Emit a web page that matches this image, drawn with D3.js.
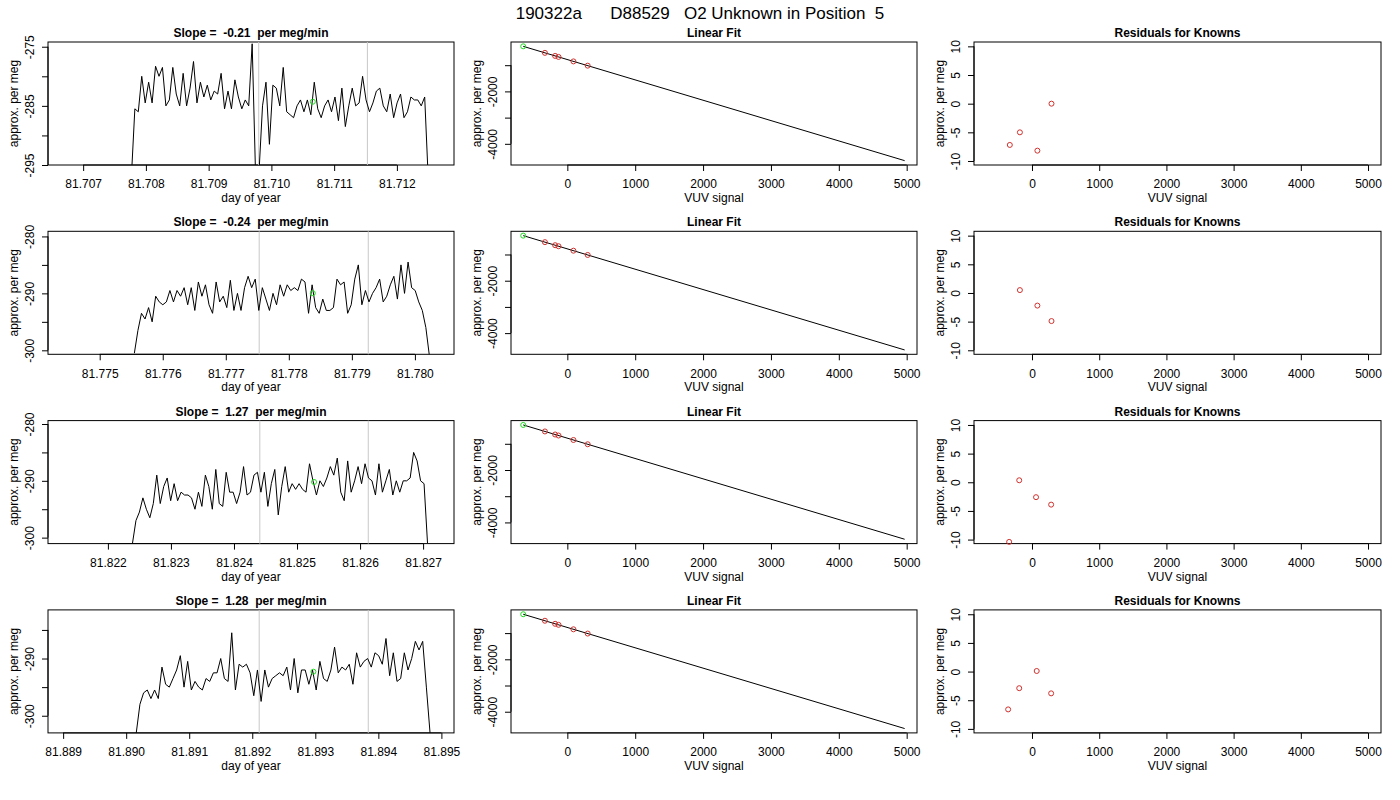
<!DOCTYPE html>
<html><head><meta charset="utf-8">
<script src="https://cdn.jsdelivr.net/npm/d3@7"></script>
<style>body{margin:0;background:#fff}text{font-family:"Liberation Sans",Arial,sans-serif;white-space:pre}</style>
</head><body><div id="chart"></div>
<script>
const mainTitle = "190322a      D88529   O2 Unknown in Position  5";
const slopes = ["-0.21", "-0.24", "1.27", "1.28"];

// time series: start/end day, values sampled evenly between them
const tsStart = [81.707769, 81.77555, 81.82239, 81.89016];
const tsEnd = [81.712498, 81.78023, 81.82707, 81.89482];
const tsXDomain = [[81.70644, 81.71291], [81.77418, 81.78062], [81.82105, 81.82749], [81.88876, 81.8952]];
const tsYDomain = [[-295, -274.2], [-300.7, -279.1], [-301.05, -279.4], [-303, -281.5]];
const tsXTicks = [[81.707, 81.708, 81.709, 81.710, 81.711, 81.712],
  [81.775, 81.776, 81.777, 81.778, 81.779, 81.780],
  [81.822, 81.823, 81.824, 81.825, 81.826, 81.827],
  [81.889, 81.890, 81.891, 81.892, 81.893, 81.894, 81.895]];
const tsYTicks = [[-295, -290, -285, -280, -275], [-300, -295, -290, -285, -280], [-300, -295, -290, -285, -280], [-300, -295, -290, -285]];
const tsYLabels = [[-295, -285, -275], [-300, -290, -280], [-300, -290, -280], [-300, -290]];
const refLines = [[81.709798, 81.71153], [81.77753, 81.77926], [81.82441, 81.82613], [81.89211, 81.89384]];
const unknownMark = [[81.71066, -284.3], [81.77838, -289.97], [81.82527, -290.2], [81.89297, -292.3]];

const series1 = [-297,-285.5,-286,-280,-284.5,-281,-284.5,-278.3,-280,-278.5,-285,-284,-278.5,-283,-285,-279.5,-285,-282,-277.5,-284.5,-281,-283.5,-281.5,-284,-282.5,-283,-279.5,-285.5,-282.5,-285.5,-280.6,-283.5,-285.5,-284,-285,-274.5,-297,-296,-285,-281,-291.5,-281.5,-282,-285,-278.5,-286,-286.5,-287,-285,-284,-286,-284,-286.5,-281,-285.5,-287,-285,-284,-286,-283.5,-287.5,-282,-288.5,-285,-282,-285,-284.5,-280,-284,-286,-284.5,-282.5,-282,-285,-286,-283,-287,-284.5,-283,-287,-286,-283.5,-284,-284,-285,-283.5,-297];
const series2 = [-300.5,-296.5,-293.5,-294.5,-292.5,-295,-290.5,-291.5,-292,-291.5,-289.5,-291.5,-289.5,-290.5,-289,-292,-289,-293,-288,-290.5,-288.5,-292,-293.5,-288,-291.5,-290.5,-292.5,-287.7,-293,-290,-293,-289,-287,-289,-287.5,-293,-289,-291,-293,-290,-292,-288.5,-290.5,-288.5,-289.5,-289,-289.5,-287.5,-288,-293.5,-288.5,-292.5,-293.5,-291,-293,-293,-292.5,-287.5,-288.5,-288,-293.5,-292,-287.5,-285,-292,-289.5,-291.5,-290,-289,-287.5,-291.5,-290.5,-288.5,-287,-291,-285,-290,-284.5,-289,-289.5,-291.5,-293,-296,-301];
const series3 = [-301,-297,-295.5,-293,-295,-296.5,-294,-289,-294,-291,-289.5,-293.5,-290.5,-293.5,-292,-292.5,-292.5,-293,-295,-292,-294.5,-289,-291,-295,-288,-294,-294.5,-288.5,-292,-292,-294,-292,-287.5,-292.5,-292,-289,-288.5,-292,-288.5,-294.5,-290.5,-288,-296,-291,-287.5,-292,-290.5,-291.5,-290.5,-291.5,-292,-287,-290,-292.5,-290,-291,-289.5,-287.5,-289,-286,-292,-293.5,-286.5,-292,-290,-287.5,-290.5,-287,-289.5,-290,-292.5,-287,-292,-290,-288,-292.5,-290,-292,-290,-290,-289.5,-285,-286.5,-290,-290.5,-301];
const series4 = [-303,-298,-296,-295.5,-297,-295.5,-297,-291.5,-294.5,-295,-293.5,-292,-289.5,-295,-290.5,-295.5,-294,-295,-295.5,-293.5,-294,-292.5,-292.5,-290,-293.5,-294,-285.5,-295.5,-291,-291.5,-291,-292.5,-296.5,-292,-297.5,-292,-295,-293.5,-293,-292.5,-293,-291.5,-295.5,-290,-296,-292,-292,-294.5,-292,-295.5,-290.5,-293.5,-294,-292,-288,-292.5,-291.5,-292,-291,-294.5,-289,-291.5,-290.5,-290,-291.5,-289,-289.5,-291,-286.5,-293,-289,-294,-293.5,-289,-292,-290,-287,-288.5,-287,-295,-303];
const allSeries = [series1, series2, series3, series4];

// linear fit (same calibration on every row)
const knownX = [-330, -180, -130, 90, 300];
const fitSlope = -0.776, fitIntercept = -785;
const unknownX = -650;
const fitLineX = [-650, 4970];
const fitXTicks = [0, 1000, 2000, 3000, 4000, 5000];
const fitYTicks = [-4000, -3000, -2000, -1000];
const fitYLabels = [-4000, -2000];

// residuals for knowns
const residX = [[-330, -180, 80, 290], [-180, 80, 290], [-340, -190, 60, 285], [-355, -190, 70, 285]];
const residY = [[-7.2, -5, -8.2, 0], [0.5, -2.2, -4.9], [-10.4, 0.35, -2.6, -3.9], [-6.6, -2.9, 0.1, -3.8]];
const residYTicks = [-10, -5, 0, 5, 10];

const W = 1400, H = 800;
const svg = d3.select("#chart").append("svg").attr("width", W).attr("height", H);
svg.append("text").attr("x", 700).attr("y", 19).attr("text-anchor", "middle")
  .style("font-size", "17px").text(mainTitle);

const cols = [[48, 454], [511, 917], [974, 1381]];
const rowStep = 189.3;
const red = "#d0322e", green = "#22dd22";

function frame(g, x0, x1, y0, y1, title, xlab, x, y, xticks, xfmt, yticks, ylabels) {
  const clipId = "c" + Math.round(x0) + "_" + Math.round(y0);
  g.append("clipPath").attr("id", clipId).append("rect")
    .attr("x", x0).attr("y", y0).attr("width", x1 - x0).attr("height", y1 - y0);
  g.append("text").attr("x", (x0 + x1) / 2).attr("y", y0 - 5).attr("text-anchor", "middle")
    .style("font-size", "12px").style("font-weight", "bold").text(title);
  const xa = g.append("g").attr("transform", `translate(0,${y1})`)
    .call(d3.axisBottom(x).tickValues(xticks).tickSize(6).tickFormat(xfmt));
  const ya = g.append("g").attr("transform", `translate(${x0},0)`)
    .call(d3.axisLeft(y).tickValues(yticks).tickSize(6).tickFormat(d => ylabels.includes(d) ? d : ""));
  [xa, ya].forEach(a => {
    a.select(".domain").remove();
    a.selectAll("text").style("font-size", "12px").attr("fill", "#000");
  });
  xa.selectAll("text").attr("dy", "1.2em");
  ya.selectAll("text").attr("transform", "rotate(-90,-9,0)")
    .attr("x", -9).attr("dy", "-0.4em").attr("text-anchor", "middle");
  // axis lines span the tick range (R style)
  xa.append("line").attr("x1", x(xticks[0])).attr("x2", x(xticks[xticks.length - 1])).attr("stroke", "#000");
  ya.append("line").attr("y1", y(yticks[0])).attr("y2", y(yticks[yticks.length - 1])).attr("stroke", "#000");
  g.append("rect").attr("x", x0).attr("y", y0).attr("width", x1 - x0).attr("height", y1 - y0)
    .attr("fill", "none").attr("stroke", "#000");
  g.append("text").attr("x", (x0 + x1) / 2).attr("y", y1 + 37).attr("text-anchor", "middle")
    .style("font-size", "12px").text(xlab);
  g.append("text").attr("transform", `translate(${x0 - 30},${(y0 + y1) / 2}) rotate(-90)`)
    .attr("text-anchor", "middle").style("font-size", "12px").text("approx. per meg");
  return clipId;
}

for (let r = 0; r < 4; r++) {
  const y0 = 42 + r * rowStep, y1 = 165 + r * rowStep;

  // time series
  let g = svg.append("g");
  let x = d3.scaleLinear().domain(tsXDomain[r]).range(cols[0]);
  let y = d3.scaleLinear().domain(tsYDomain[r]).range([y1, y0]);
  let clip = frame(g, cols[0][0], cols[0][1], y0, y1, `Slope =  ${slopes[r]}  per meg/min`, "day of year",
    x, y, tsXTicks[r], d => d.toFixed(3), tsYTicks[r], tsYLabels[r]);
  refLines[r].forEach(d => g.append("line").attr("x1", x(d)).attr("x2", x(d)).attr("y1", y0).attr("y2", y1)
    .attr("stroke", "#c8c8c8"));
  const vals = allSeries[r];
  const step = (tsEnd[r] - tsStart[r]) / (vals.length - 1);
  g.append("path").datum(vals).attr("clip-path", `url(#${clip})`)
    .attr("fill", "none").attr("stroke", "#000").attr("stroke-width", 1)
    .attr("d", d3.line().x((d, i) => x(tsStart[r] + i * step)).y(d => y(d)));
  g.append("circle").attr("cx", x(unknownMark[r][0])).attr("cy", y(unknownMark[r][1])).attr("r", 2.5)
    .attr("fill", "none").attr("stroke", green);

  // linear fit
  g = svg.append("g");
  x = d3.scaleLinear().domain([-830, 5152]).range(cols[1]);
  y = d3.scaleLinear().domain([-4808, -115]).range([y1, y0]);
  frame(g, cols[1][0], cols[1][1], y0, y1, "Linear Fit", "VUV signal", x, y, fitXTicks, d => d, fitYTicks, fitYLabels);
  g.append("path").datum(fitLineX).attr("fill", "none").attr("stroke", "#000")
    .attr("d", d3.line().x(d => x(d)).y(d => y(fitSlope * d + fitIntercept)));
  g.selectAll(".k").data(knownX).enter().append("circle")
    .attr("cx", d => x(d)).attr("cy", d => y(fitSlope * d + fitIntercept)).attr("r", 2.5)
    .attr("fill", "none").attr("stroke", red);
  g.append("circle").attr("cx", x(unknownX)).attr("cy", y(fitSlope * unknownX + fitIntercept)).attr("r", 2.5)
    .attr("fill", "none").attr("stroke", green);

  // residuals
  g = svg.append("g");
  x = d3.scaleLinear().domain([-863, 5193]).range(cols[2]);
  y = d3.scaleLinear().domain([-10.7, 10.76]).range([y1, y0]);
  frame(g, cols[2][0], cols[2][1], y0, y1, "Residuals for Knowns", "VUV signal", x, y, fitXTicks, d => d, residYTicks, residYTicks);
  g.selectAll(".rp").data(residX[r]).enter().append("circle")
    .attr("cx", d => x(d)).attr("cy", (d, i) => y(residY[r][i])).attr("r", 2.5)
    .attr("fill", "none").attr("stroke", red);
}
</script></body></html>
